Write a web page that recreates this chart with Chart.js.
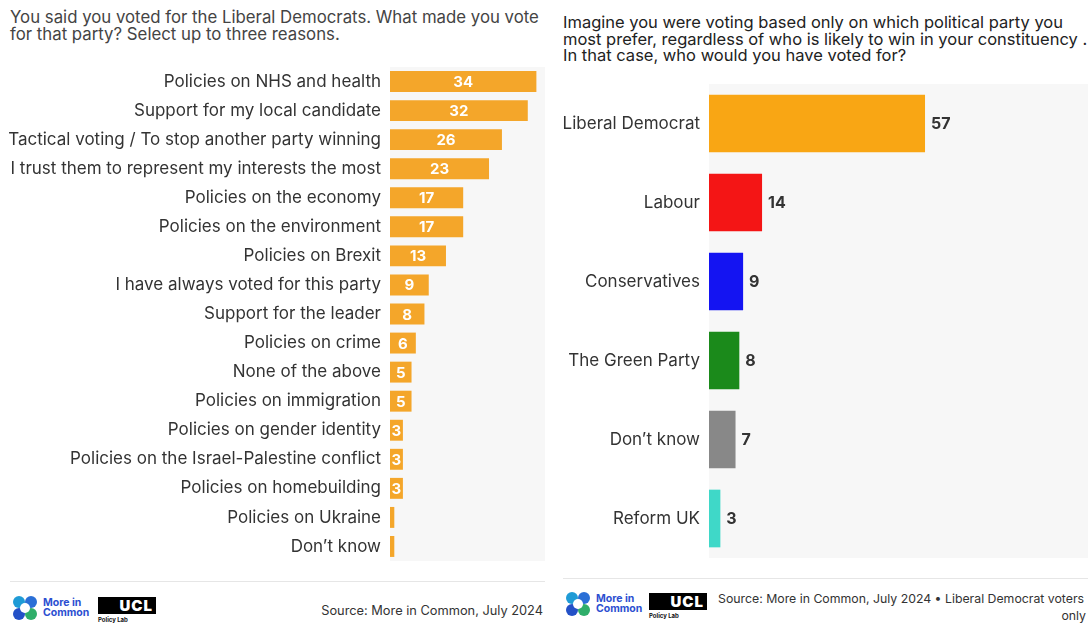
<!DOCTYPE html>
<html>
<head>
<meta charset="utf-8">
<script src="https://cdn.jsdelivr.net/npm/chart.js@4"></script>
<style>
  body { margin: 0; background: #fff; width: 1088px; height: 623px; overflow: hidden; position: relative; font-family: Inter, "Open Sans", sans-serif; }
  .title { position: absolute; white-space: nowrap; }
  #title-left { left: 10px; top: 9px; color: #444; font-size: 16.8px; line-height: 17px; }
  #title-right { left: 563px; top: 14px; color: #222; font-size: 16.5px; line-height: 16.5px; }
  .wrap { position: absolute; }
  .rule { position: absolute; height: 1px; background: #e6e6e6; }
  .source { position: absolute; font-size: 12.8px; color: #333; white-space: nowrap; }
  .logo { position: absolute; display: flex; align-items: center; }
  .mic-icon { position: relative; width: 24px; height: 24px; }
  .mic-icon span { position: absolute; width: 12px; height: 12px; border-radius: 50%; }
  .mic-text { font-size: 10.5px; line-height: 10.5px; font-weight: 700; color: #2c4fd1; margin-left: 6px; }
  .ucl { position: absolute; }
  .ucl .box { width: 58px; height: 17px; background: #000; color: #fff; font-weight: 900; font-size: 15px; line-height: 17px; text-align: right; padding-right: 3px; box-sizing: border-box; letter-spacing: 1px; }
  .ucl .sub { font-size: 6px; font-weight: 700; color: #111; margin-top: 2px; }
</style>
</head>
<body>
<div class="title" id="title-left">You said you voted for the Liberal Democrats. What made you vote<br>for that party? Select up to three reasons.</div>
<div class="title" id="title-right">Imagine you were voting based only on which political party you<br>most prefer, regardless of who is likely to win in your constituency .<br>In that case, who would you have voted for?</div>

<div class="wrap" style="left:0;top:67px;width:545px;height:494px;"><canvas id="reasons"></canvas></div>
<div class="wrap" style="left:555px;top:84px;width:533px;height:474px;"><canvas id="parties"></canvas></div>

<div class="rule" style="left:10px;top:581px;width:535px;"></div>
<div class="rule" style="left:563px;top:578px;width:525px;"></div>

<div class="logo" style="left:13px;top:596px;">
  <div class="mic-icon">
    <span style="left:0;top:0;background:#1f9bd6;"></span>
    <span style="left:12px;top:0;background:#2a6fd6;"></span>
    <span style="left:0;top:12px;background:#2451c7;"></span>
    <span style="left:12px;top:12px;background:#2fae6a;"></span>
    <span style="left:7px;top:7px;width:10px;height:10px;background:#fff;"></span>
  </div>
  <div class="mic-text">More in<br>Common</div>
</div>
<div class="ucl" style="left:98px;top:597px;"><div class="box">UCL</div><div class="sub">Policy Lab</div></div>
<div class="source" style="right:545px;top:603px;">Source: More in Common, July 2024</div>

<div class="logo" style="left:566px;top:592px;">
  <div class="mic-icon">
    <span style="left:0;top:0;background:#1f9bd6;"></span>
    <span style="left:12px;top:0;background:#2a6fd6;"></span>
    <span style="left:0;top:12px;background:#2451c7;"></span>
    <span style="left:12px;top:12px;background:#2fae6a;"></span>
    <span style="left:7px;top:7px;width:10px;height:10px;background:#fff;"></span>
  </div>
  <div class="mic-text">More in<br>Common</div>
</div>
<div class="ucl" style="left:649px;top:593px;"><div class="box">UCL</div><div class="sub">Policy Lab</div></div>
<div class="source" style="left:718px;top:591px;font-size:12.3px;">Source: More in Common, July 2024 • Liberal Democrat voters</div>
<div class="source" style="right:2px;top:608px;font-size:12.3px;">only</div>

<script>
// left chart: reasons for voting Lib Dem
const reasonLabels = [
    'Policies on NHS and health',
    'Support for my local candidate',
    'Tactical voting / To stop another party winning',
    'I trust them to represent my interests the most',
    'Policies on the economy',
    'Policies on the environment',
    'Policies on Brexit',
    'I have always voted for this party',
    'Support for the leader',
    'Policies on crime',
    'None of the above',
    'Policies on immigration',
    'Policies on gender identity',
    'Policies on the Israel-Palestine conflict',
    'Policies on homebuilding',
    'Policies on Ukraine',
    'Don\u2019t know'
];
const reasonValues = [34, 32, 26, 23, 17, 17, 13, 9, 8, 6, 5, 5, 3, 3, 3, 1, 1];

// right chart: preferred party
const partyLabels = ['Liberal Democrat', 'Labour', 'Conservatives', 'The Green Party', 'Don\u2019t know', 'Reform UK'];
const partyValues = [57, 14, 9, 8, 7, 3];
const partyColors = ['#f9a614', '#f41515', '#1414f2', '#1b8a1b', '#888888', '#3fd8c8'];

const labelFont = "Inter, 'Open Sans', sans-serif";

// grey panel behind the bars
const plotBackground = {
    id: 'plotBackground',
    beforeDraw(chart, args, opts) {
        const a = chart.chartArea;
        chart.ctx.save();
        chart.ctx.fillStyle = opts.color || '#f7f7f7';
        chart.ctx.fillRect(a.left, a.top, a.right - a.left, a.bottom - a.top);
        chart.ctx.restore();
    }
};

// value labels, inside (centered) or after the bar end
const valueLabels = {
    id: 'valueLabels',
    afterDatasetsDraw(chart, args, opts) {
        const ctx = chart.ctx;
        const values = chart.data.datasets[0].data;
        ctx.save();
        ctx.font = opts.font;
        ctx.fillStyle = opts.color;
        ctx.textBaseline = 'middle';
        chart.getDatasetMeta(0).data.forEach((bar, i) => {
            const v = values[i];
            if (v < opts.min) return;
            if (opts.inside) {
                ctx.textAlign = 'center';
                ctx.fillText(v, (bar.x + bar.base) / 2, bar.y + 1);
            } else {
                ctx.textAlign = 'left';
                ctx.fillText(v, bar.x + 6, bar.y + 1);
            }
        });
        ctx.restore();
    }
};

// fixed label column, no extra room above/below the bands
function fixLabelColumn(width) {
    return scale => {
        scale.width = width;
        scale.paddingTop = 0;
        scale.paddingBottom = 0;
    };
}

new Chart(document.getElementById('reasons'), {
    type: 'bar',
    data: {
        labels: reasonLabels,
        datasets: [{
            data: reasonValues,
            backgroundColor: '#f4a62a',
            categoryPercentage: 1,
            barPercentage: 0.72
        }]
    },
    options: {
        indexAxis: 'y',
        responsive: true,
        maintainAspectRatio: false,
        animation: false,
        layout: { padding: 0 },
        scales: {
            x: { display: false, min: 0, max: 36 },
            y: {
                grid: { display: false, drawTicks: false },
                border: { display: false },
                ticks: { color: '#333', font: { family: labelFont, size: 17 }, padding: 9 },
                afterFit: fixLabelColumn(390)
            }
        },
        plugins: {
            legend: { display: false },
            tooltip: { enabled: false },
            plotBackground: { color: '#f7f7f7' },
            valueLabels: { inside: true, min: 2, color: '#fff', font: "bold 15px " + labelFont }
        }
    },
    plugins: [plotBackground, valueLabels]
});

new Chart(document.getElementById('parties'), {
    type: 'bar',
    data: {
        labels: partyLabels,
        datasets: [{
            data: partyValues,
            backgroundColor: partyColors,
            categoryPercentage: 1,
            barPercentage: 0.73
        }]
    },
    options: {
        indexAxis: 'y',
        responsive: true,
        maintainAspectRatio: false,
        animation: false,
        layout: { padding: 0 },
        scales: {
            x: { display: false, min: 0, max: 100 },
            y: {
                grid: { display: false, drawTicks: false },
                border: { display: false },
                ticks: { color: '#333', font: { family: labelFont, size: 17 }, padding: 9 },
                afterFit: fixLabelColumn(154)
            }
        },
        plugins: {
            legend: { display: false },
            tooltip: { enabled: false },
            plotBackground: { color: '#f7f7f7' },
            valueLabels: { inside: false, min: 0, color: '#333', font: "bold 16px " + labelFont }
        }
    },
    plugins: [plotBackground, valueLabels]
});
</script>
</body>
</html>
